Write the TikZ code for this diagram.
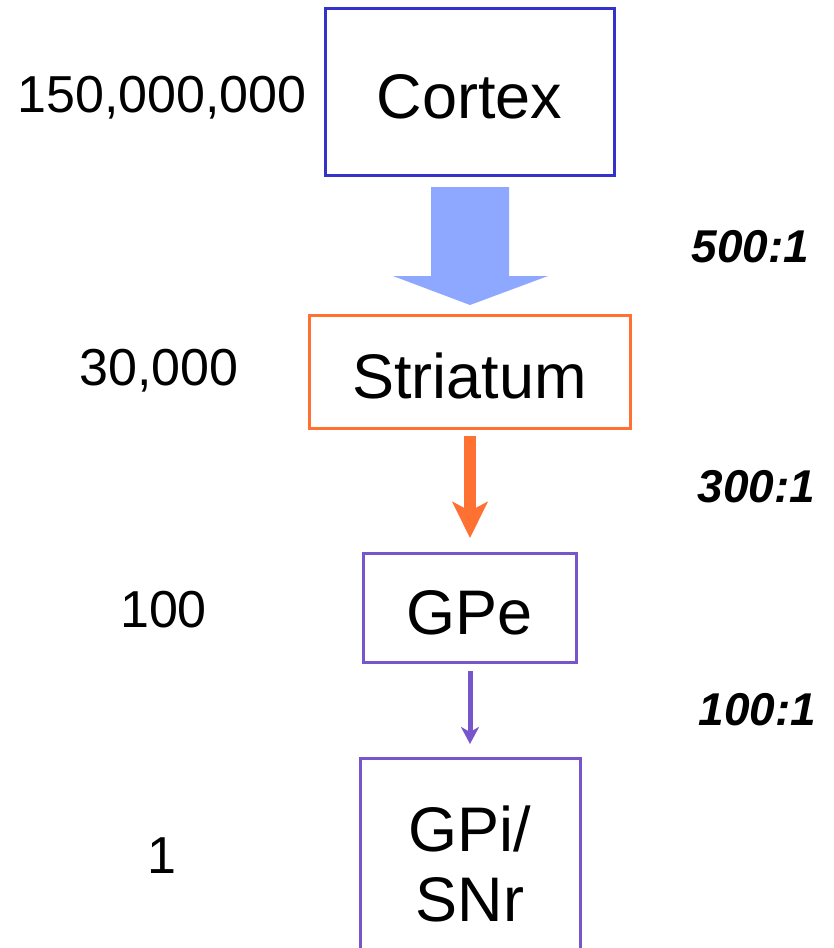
\documentclass[tikz,border=0pt]{standalone}
\usepackage{fontspec}
\setmainfont{Liberation Sans}
\usetikzlibrary{arrows.meta,calc}
\definecolor{cortexblue}{RGB}{51,51,204}
\definecolor{bigarrow}{RGB}{143,168,255}
\definecolor{striorange}{RGB}{255,112,51}
\definecolor{gppurple}{RGB}{119,85,204}
\begin{document}
\begin{tikzpicture}[x=1pt,y=-1pt,
  box/.style={draw,line width=3pt,inner sep=0pt,outer sep=0pt,
    font=\fontsize{63}{70}\selectfont},
  single/.style={text height=54pt,text depth=0pt},
  count/.style={font=\fontsize{52}{58}\selectfont,anchor=base,inner sep=0pt},
  ratio/.style={font=\fontsize{46}{52}\selectfont\bfseries\itshape,anchor=base,inner sep=0pt}]
\useasboundingbox (0,0) rectangle (833,948);

% boxes
\node[box,single,draw=cortexblue,minimum width=289pt,minimum height=167pt] (cortex) at (469.5,91.5) {Cortex};
\node[box,single,draw=striorange,minimum width=321pt,minimum height=113pt] (striatum) at (469.5,371.5) {Striatum};
\node[box,single,draw=gppurple,minimum width=213pt,minimum height=109pt] (gpe) at (469.5,607.5) {GPe};
\node[box,draw=gppurple,align=center,minimum width=220pt,minimum height=212pt] (gpi) at (470,864) {GPi/\\SNr};

% big arrow cortex -> striatum
\coordinate (tipA) at ($(striatum.north)+(0.5,-10)$);
\fill[bigarrow] ($(cortex.south)+(-38.5,12)$) -- ($(cortex.south)+(39.5,12)$)
  -- ($(cortex.south)+(39.5,101)$) -- ($(cortex.south)+(78.5,101)$)
  -- (tipA) -- ($(cortex.south)+(-76.5,101)$) -- ($(cortex.south)+(-38.5,101)$) -- cycle;

% striatum -> gpe
\draw[striorange,line width=12pt,-{Stealth[length=36pt,width=35pt,inset=9pt]}]
  ($(striatum.south)+(0.5,8)$) -- ($(gpe.north)+(0.5,-15)$);

% gpe -> gpi
\draw[gppurple,line width=5pt,-{Stealth[length=17pt,width=18pt,inset=5pt]}]
  ($(gpe.south)+(0.5,9)$) -- ($(gpi.north)+(0,-14)$);

% counts
\node[count] (n1) at (162,112) {150,000,000};
\node[count] (n2) at (159,385) {30,000};
\node[count] (n3) at (163.5,627) {100};
\node[count] (n4) at (162,873) {1};

% ratios
\node[ratio] (r1) at (750.5,262) {500:1};
\node[ratio] (r2) at (756.5,502) {300:1};
\node[ratio] (r3) at (757.5,725) {100:1};
\end{tikzpicture}
\end{document}
